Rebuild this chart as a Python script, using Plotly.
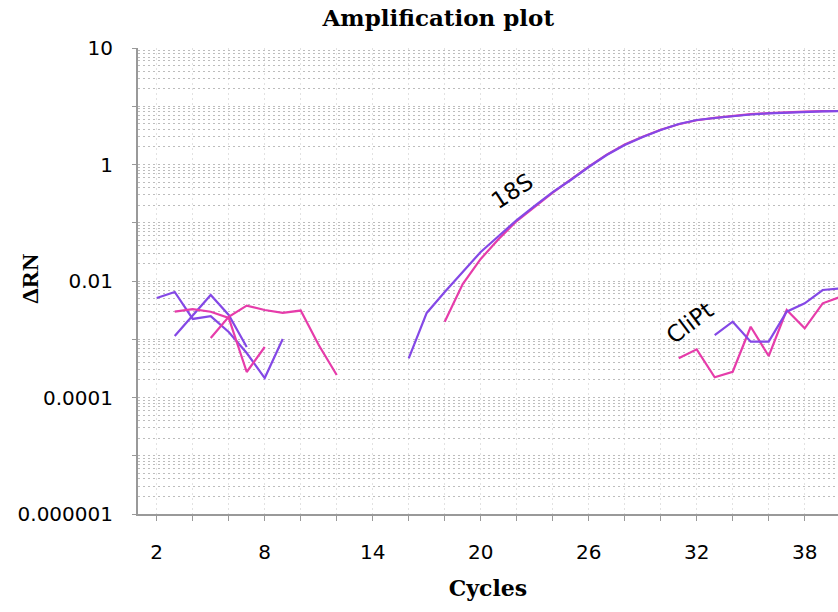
import plotly.graph_objects as go

# ---- data ----
# baseline region, early cycles
base_p1_cycles = [2, 3, 4, 5, 6, 7, 8, 9]
base_p1_values = [0.00511, 0.00647, 0.00223, 0.00250, 0.00133, 0.000581, 0.000216, 0.00101]
base_p2_cycles = [3, 4, 5, 6, 7]
base_p2_values = [0.00114, 0.00261, 0.00575, 0.00261, 0.000736]
base_m1_cycles = [3, 4, 5, 6, 7, 8]
base_m1_values = [0.00297, 0.00330, 0.00297, 0.00232, 0.000274, 0.000736]
base_m2_cycles = [5, 6, 7, 8, 9, 10, 11, 12]
base_m2_values = [0.00105, 0.00243, 0.00377, 0.00318, 0.00283, 0.00311, 0.000796, 0.000243]

# 18S amplification curves
s18_p_cycles = list(range(16, 41))
s18_p_values = [0.000471, 0.00283, 0.00647, 0.01429, 0.0315, 0.0593, 0.1114, 0.194, 0.337,
                0.542, 0.906, 1.456, 2.16, 2.97, 3.91, 4.96, 5.81, 6.28, 6.80, 7.22, 7.57,
                7.81, 8.06, 8.19, 8.28]
s18_m_cycles = list(range(18, 41))
s18_m_values = [0.00200, 0.00887, 0.0239, 0.0526, 0.107, 0.19, 0.33, 0.55, 0.92, 1.48, 2.2,
                3.0, 3.95, 4.9, 5.75, 6.3, 6.8, 7.3, 7.6, 7.9, 8.1, 8.25, 8.3]

# CliPt curves
clipt_m_cycles = [31, 32, 33, 34, 35, 36, 37, 38, 39, 40]
clipt_m_values = [0.000471, 0.000671, 0.000222, 0.000277, 0.00164, 0.000515, 0.00318,
                  0.00154, 0.00414, 0.00537]
clipt_p_cycles = [33, 34, 35, 36, 37, 38, 39, 40]
clipt_p_values = [0.00118, 0.00200, 0.000908, 0.000908, 0.00297, 0.00414, 0.00700, 0.00750]

y_tick_vals = [1e-6, 1e-5, 1e-4, 1e-3, 1e-2, 1e-1, 1, 10, 100]
y_tick_text = ["0.000001", "", "0.0001", "", "0.01", "", "1", "", "10"]
x_tick_vals = [2, 8, 14, 20, 26, 32, 38]

PURPLE = "#8448e6"
MAGENTA = "#e63caa"
GRID = "#bdbdbd"

fig = go.Figure()
series = [
    (base_p1_cycles, base_p1_values, PURPLE),
    (base_p2_cycles, base_p2_values, PURPLE),
    (base_m1_cycles, base_m1_values, MAGENTA),
    (base_m2_cycles, base_m2_values, MAGENTA),
    (s18_m_cycles, s18_m_values, MAGENTA),
    (s18_p_cycles, s18_p_values, PURPLE),
    (clipt_m_cycles, clipt_m_values, MAGENTA),
    (clipt_p_cycles, clipt_p_values, PURPLE),
]
for xs, ys, col in series:
    fig.add_trace(go.Scatter(x=xs, y=ys, mode="lines",
                             line=dict(color=col, width=2.2), showlegend=False))

fig.add_annotation(x=21.75, y=-0.45, xref="x", yref="y", text="18S", showarrow=False,
                   textangle=-33, font=dict(family="DejaVu Sans", size=23, color="black"))
fig.add_annotation(x=31.6, y=-2.72, xref="x", yref="y", text="CliPt", showarrow=False,
                   textangle=-37, font=dict(family="DejaVu Sans", size=23, color="black"))
fig.add_annotation(x=-0.154, y=0.506, xref="paper", yref="paper", text="<b>ΔRN</b>",
                   showarrow=False, textangle=-90, xanchor="center", yanchor="middle",
                   font=dict(family="Liberation Serif", size=24, color="black"))

fig.update_layout(
    width=838, height=612,
    margin=dict(l=138, r=0, t=48, b=98),
    paper_bgcolor="white", plot_bgcolor="white",
    title=dict(text="<b>Amplification plot</b>", x=0.523, xanchor="center",
               y=0.971, yanchor="middle",
               font=dict(family="DejaVu Serif", size=23, color="black")),
    xaxis=dict(
        automargin=False,
        range=[0.96, 39.85], tickmode="array", tickvals=x_tick_vals,
        ticktext=[str(v) for v in x_tick_vals],
        ticks="outside", ticklen=5, tickcolor="#999", ticklabelstandoff=14,
        tickfont=dict(family="DejaVu Sans", size=20, color="black"),
        showline=True, linecolor="#999", linewidth=2,
        showgrid=True, gridcolor="#e2e2e2", griddash="2px,3px", gridwidth=1,
        minor=dict(tick0=2, dtick=2, ticks="outside", ticklen=5, tickcolor="#999",
                   showgrid=True, gridcolor="#e2e2e2", griddash="2px,3px"),
        zeroline=False,
        title=dict(text="<b>Cycles</b>", standoff=18,
                   font=dict(family="DejaVu Serif", size=22, color="black")),
    ),
    yaxis=dict(
        automargin=False,
        type="log", range=[-6, 2], tickmode="array", tickvals=y_tick_vals,
        ticktext=y_tick_text,
        ticks="outside", ticklen=4, tickcolor="#999", ticklabelstandoff=15,
        tickfont=dict(family="DejaVu Sans", size=20, color="black"),
        showline=True, linecolor="#999", linewidth=2,
        showgrid=True, gridcolor=GRID, griddash="2px,3px", gridwidth=1,
        minor=dict(dtick="D1", showgrid=True, gridcolor=GRID, griddash="2px,3px"),
        zeroline=False,
    ),
)

fig.write_html("out.html", config={"displayModeBar": False},
               post_script="document.body.style.margin='0px';document.body.style.overflow='hidden';")
